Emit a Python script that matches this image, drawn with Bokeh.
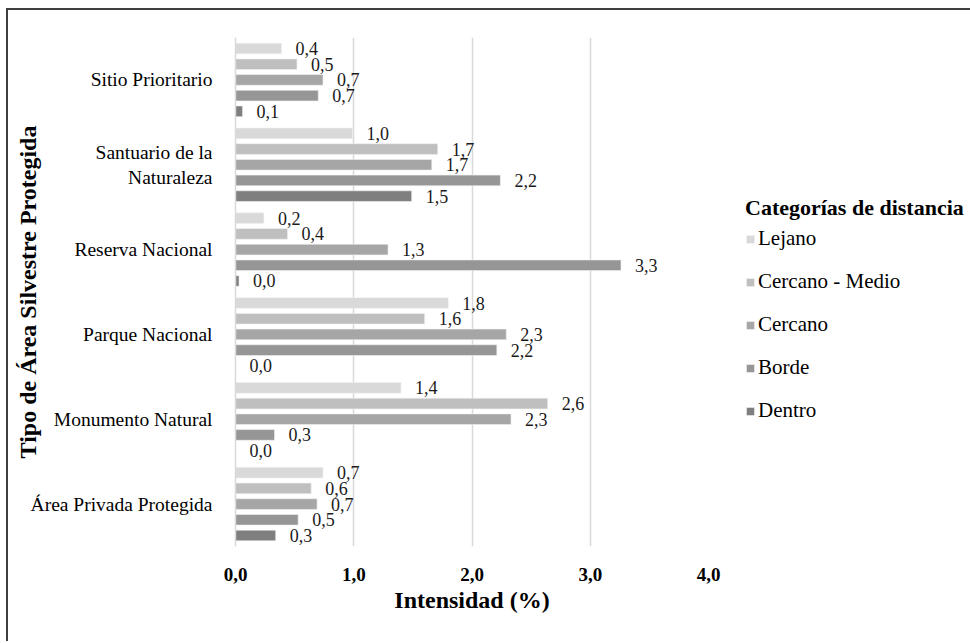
import math
from bokeh.plotting import figure
from bokeh.models import (ColumnDataSource, Legend, LegendItem, FixedTicker,
                          LabelSet, Range1d)
from bokeh.transform import dodge
from bokeh.embed import file_html
from bokeh.resources import INLINE

# ---------------- data ----------------
categories = ["Sitio Prioritario", "Santuario de la\nNaturaleza", "Reserva Nacional",
              "Parque Nacional", "Monumento Natural", "Área Privada Protegida"]
series_names = ["Lejano", "Cercano - Medio", "Cercano", "Borde", "Dentro"]
lejano = [0.39, 0.99, 0.24, 1.80, 1.40, 0.74]
cercano_medio = [0.52, 1.71, 0.44, 1.60, 2.64, 0.64]
cercano = [0.74, 1.66, 1.29, 2.29, 2.33, 0.69]
borde = [0.70, 2.24, 3.26, 2.21, 0.33, 0.53]
dentro = [0.06, 1.49, 0.03, 0.00, 0.00, 0.34]
x_ticks = [0, 1, 2, 3, 4]
x_tick_labels = ["0,0", "1,0", "2,0", "3,0", "4,0"]
colors = ["#d9d9d9", "#bfbfbf", "#a6a6a6", "#969696", "#7f7f7f"]

FONT = "Liberation Serif"

series_values = [lejano, cercano_medio, cercano, borde, dentro]
keys = ["s0", "s1", "s2", "s3", "s4"]
n = len(categories)
data = {"y": [n - 1 - i + 0.5 for i in range(n)], "cat": categories}
for k, vals in zip(keys, series_values):
    data[k] = vals
    data[k + "_lbl"] = [f"{v:.1f}".replace(".", ",") for v in vals]
source = ColumnDataSource(data)

p = figure(frame_width=473, frame_height=509,
           x_range=Range1d(0, 4), y_range=Range1d(0, n),
           min_border_left=227, min_border_top=27, min_border_right=258,
           min_border_bottom=95,
           output_backend="svg", toolbar_location=None)
p.styles = {"border-top": "2px solid #404040", "border-left": "2px solid #404040",
            "margin-left": "6px", "margin-top": "8px"}

step = 0.185
bar_h = 0.126
items = []
for j, (k, name, col) in enumerate(zip(keys, series_names, colors)):
    off = (2 - j) * step
    r = p.hbar(y=dodge("y", off), left=0, right=k, height=bar_h, source=source,
               fill_color=col, line_color="#f2f2f2", line_width=0.6)
    items.append(LegendItem(label=name, renderers=[r]))
    lbl = LabelSet(x=k, y=dodge("y", off), text=k + "_lbl", source=source,
                   x_offset=14, text_baseline="middle", text_align="left",
                   text_font=FONT, text_font_size="18px", text_color="#1a1a1a")
    p.add_layout(lbl)

# axes
p.xaxis.ticker = FixedTicker(ticks=x_ticks)
p.xaxis.major_label_overrides = {t: s for t, s in zip(x_ticks, x_tick_labels)}
p.xaxis.axis_line_color = None
p.xaxis.major_tick_line_color = None
p.xaxis.minor_tick_line_color = None
p.xaxis.major_label_text_font = FONT
p.xaxis.major_label_text_font_style = "bold"
p.xaxis.major_label_text_font_size = "19px"
p.xaxis.major_label_text_color = "#000000"
p.xaxis.major_label_standoff = 15
p.xaxis.axis_label = "Intensidad (%)"
p.xaxis.axis_label_text_font = FONT
p.xaxis.axis_label_text_font_style = "bold"
p.xaxis.axis_label_text_font_size = "24px"
p.xaxis.axis_label_text_color = "#000000"
p.xaxis.axis_label_standoff = 3

p.yaxis.ticker = FixedTicker(ticks=data["y"])
p.yaxis.major_label_overrides = {y: c for y, c in zip(data["y"], categories)}
p.yaxis.axis_line_color = "#d9d9d9"
p.yaxis.axis_line_width = 1.5
p.yaxis.major_tick_line_color = None
p.yaxis.minor_tick_line_color = None
p.yaxis.major_label_text_font = FONT
p.yaxis.major_label_text_font_size = "19.5px"
p.yaxis.major_label_text_color = "#000000"
p.yaxis.major_label_standoff = 17
p.yaxis.axis_label = "Tipo de Área Silvestre Protegida"
p.yaxis.axis_label_text_font = FONT
p.yaxis.axis_label_text_font_style = "bold"
p.yaxis.axis_label_text_font_size = "24px"
p.yaxis.axis_label_text_color = "#000000"
p.yaxis.axis_label_standoff = -13

p.xgrid.ticker = FixedTicker(ticks=x_ticks)
p.xgrid.grid_line_color = "#d9d9d9"
p.xgrid.grid_line_width = 1.5
p.ygrid.visible = False
p.outline_line_color = None

legend = Legend(items=items, location=(37, 123), orientation="vertical",
                title="Categorías de distancia", title_text_font=FONT,
                title_text_font_style="bold", title_text_font_size="22px",
                title_text_color="#000000", title_standoff=5,
                label_text_font=FONT, label_text_font_size="21px",
                label_text_color="#000000", glyph_width=10, glyph_height=10,
                label_standoff=3, spacing=18, padding=0, margin=0,
                border_line_color=None, background_fill_alpha=0)
p.add_layout(legend, "right")

open("out.html", "w").write(file_html(p, INLINE))
